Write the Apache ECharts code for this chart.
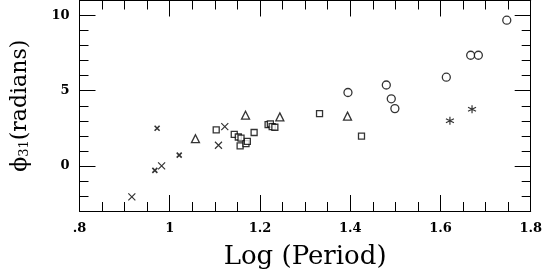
<!DOCTYPE html>
<html>
<head>
<meta charset="utf-8">
<script src="https://cdn.jsdelivr.net/npm/echarts@6/dist/echarts.min.js"></script>
<style>
html,body{margin:0;padding:0;background:#fff;}
#chart{width:545px;height:275px;}
</style>
</head>
<body>
<div id="chart"></div>
<script>
// Data
const bigCrossX = [0.916, 0.982, 1.108, 1.122];
const bigCrossY = [-2.06, 0.0, 1.37, 2.61];
const smallCrossX = [0.972, 0.967, 1.021];
const smallCrossY = [2.50, -0.30, 0.72];
const triangleX = [1.057, 1.168, 1.244, 1.394];
const triangleY = [1.81, 3.37, 3.26, 3.31];
const squareX = [1.103, 1.143, 1.152, 1.158, 1.187, 1.156, 1.169, 1.172, 1.218, 1.223, 1.227, 1.233, 1.332, 1.425];
const squareY = [2.39, 2.09, 1.92, 1.85, 2.22, 1.33, 1.48, 1.63, 2.74, 2.79, 2.61, 2.57, 3.48, 1.98];
const circleX = [1.395, 1.480, 1.491, 1.499, 1.613, 1.667, 1.684, 1.747];
const circleY = [4.88, 5.38, 4.46, 3.81, 5.90, 7.36, 7.36, 9.69];
const starX = [1.621, 1.670];
const starY = [3.00, 3.77];

const xTickLabels = ['.8', '1', '1.2', '1.4', '1.6', '1.8'];
const yTickLabels = ['0', '5', '10'];

function pts(xs, ys) { return xs.map((x, i) => [x, ys[i]]); }

const FONT = 'DejaVu Serif';
const chart = echarts.init(document.getElementById('chart'));

const lineStyle = { color: '#000', width: 1 };
function xAxisDef(pos, showLabel) {
  return {
    type: 'value', position: pos, min: 0.8, max: 1.8, interval: 0.2,
    axisLine: { show: true, onZero: false, lineStyle },
    axisTick: { show: true, inside: true, length: 16, lineStyle },
    minorTick: { show: true, splitNumber: 4, length: 9, lineStyle },
    splitLine: { show: false },
    axisLabel: {
      show: showLabel, margin: 11, fontFamily: FONT, fontSize: 13, fontWeight: 'bold', color: '#000',
      formatter: function (v) {
        const idx = Math.round((v - 0.8) / 0.2);
        return xTickLabels[idx] || '';
      }
    }
  };
}
function yMinor(pos) {
  return {
    type: 'value', position: pos, min: -3, max: 11, interval: 1,
    axisLine: { show: true, onZero: false, lineStyle },
    axisTick: { show: true, inside: true, length: 9, lineStyle },
    splitLine: { show: false },
    axisLabel: { show: false }
  };
}
function yMajor(pos, showLabel) {
  const a = {
    type: 'value', position: pos, min: -3, max: 11,
    axisLine: { show: false, onZero: false },
    axisTick: { show: true, inside: true, length: 16, lineStyle, customValues: [0, 5, 10] },
    splitLine: { show: false },
    axisLabel: {
      show: showLabel, margin: 10, fontFamily: FONT, fontSize: 13, fontWeight: 'bold', color: '#000',
      customValues: [0, 5, 10],
      formatter: function (v) { return yTickLabels[Math.round(v / 5)] || ''; }
    }
  };
  if (showLabel) {
    a.name = '{a|ϕ}{s|31}{a|(radians)}';
    a.nameLocation = 'middle';
    a.nameGap = 48;
    a.nameRotate = 90;
    a.nameTextStyle = {
      rich: {
        a: { fontFamily: FONT, fontSize: 22, color: '#000' },
        s: { fontFamily: FONT, fontSize: 13, color: '#000', verticalAlign: 'bottom', padding: [10, 0, 0, 0] }
      }
    };
  }
  return a;
}

const xa = xAxisDef('bottom', true);
xa.name = 'Log (Period)';
xa.nameLocation = 'middle';
xa.nameGap = 33;
xa.nameTextStyle = { fontFamily: FONT, fontSize: 26, color: '#000' };

const crossPath = 'path://M0,0L10,10M10,0L0,10';
const starPath = 'path://M5,0L5,10M0,2.5L10,7.5M0,7.5L10,2.5';
const hollow = { color: 'rgba(0,0,0,0)', borderColor: '#000', borderWidth: 1.2 };

const option = {
  animation: false,
  backgroundColor: '#fff',
  grid: { left: 79.5, right: 10, top: 0.5, bottom: 62 },
  xAxis: [xa, xAxisDef('top', false)],
  yAxis: [yMajor('left', true), yMinor('left'), yMajor('right', false), yMinor('right')],
  series: [
    { type: 'scatter', data: pts(bigCrossX, bigCrossY), symbol: crossPath, symbolSize: 7, itemStyle: hollow },
    { type: 'scatter', data: pts(smallCrossX, smallCrossY), symbol: crossPath, symbolSize: 5, itemStyle: { color: 'rgba(0,0,0,0)', borderColor: '#000', borderWidth: 1.6 } },
    { type: 'scatter', data: pts(triangleX, triangleY), symbol: 'triangle', symbolSize: 8, itemStyle: { color: '#fff', borderColor: '#000', borderWidth: 1.3 } },
    { type: 'scatter', data: pts(squareX, squareY), symbol: 'rect', symbolSize: 6, itemStyle: { color: '#fff', borderColor: '#000', borderWidth: 1.3 } },
    { type: 'scatter', data: pts(circleX, circleY), symbol: 'circle', symbolSize: 8, itemStyle: { color: '#fff', borderColor: '#000', borderWidth: 1.3 } },
    { type: 'scatter', data: pts(starX, starY), symbol: starPath, symbolSize: 8, itemStyle: hollow }
  ]
};
chart.setOption(option);
</script>
</body>
</html>
